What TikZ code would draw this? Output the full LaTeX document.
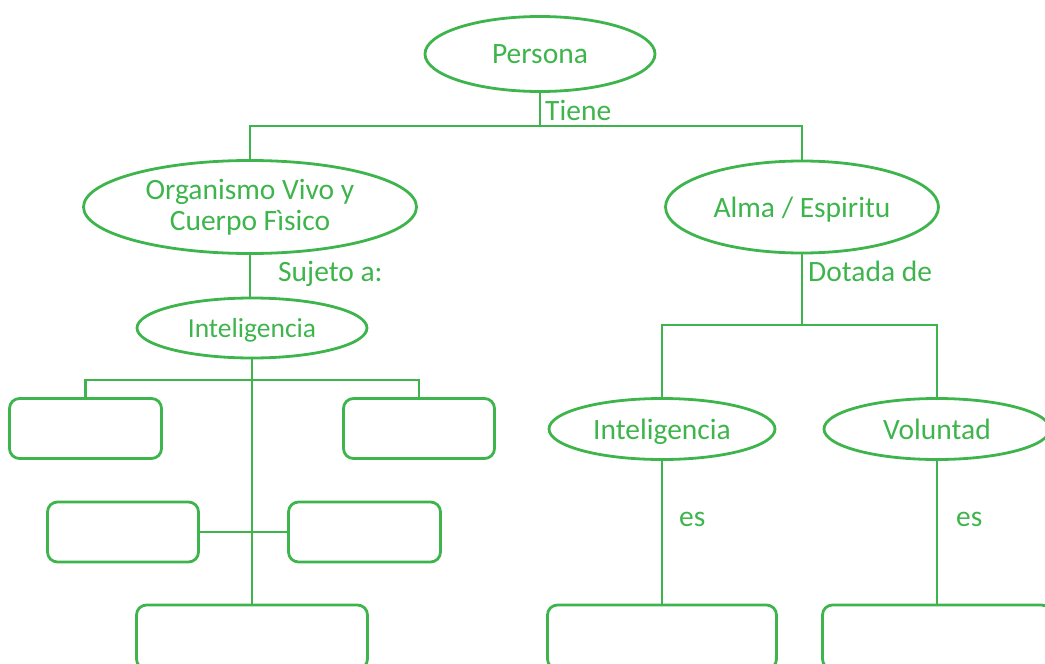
\documentclass[tikz,border=0pt]{standalone}
\usepackage{fontspec}
\setmainfont{Carlito}
\usetikzlibrary{shapes.geometric}
\definecolor{leaf}{RGB}{62,181,76}
\begin{document}
\begin{tikzpicture}[x=1pt,y=-1pt,
  every node/.style={text=leaf},
  oval/.style={draw=leaf,line width=2.8pt,ellipse,inner sep=0pt,
    font=\fontsize{29.5}{31}\selectfont},
  flat/.style={text depth=0pt},
  card/.style={draw=leaf,line width=2.8pt,rectangle,rounded corners=10pt,inner sep=0pt},
  link/.style={draw=leaf,line width=2.8pt},
  tag/.style={anchor=base west,inner sep=0pt,font=\fontsize{29.5}{31}\selectfont}]
\useasboundingbox (0,0) rectangle (1045,664);
\clip (0,0) rectangle (1045,664);

% concept ovals
\node[oval,flat,minimum width=230pt,minimum height=75pt] (persona) at (540,54) {Persona};
\node[oval,minimum width=333pt,minimum height=93pt,align=center] (org) at (250,207)
  {Organismo Vivo y\\Cuerpo Fìsico};
\node[oval,flat,minimum width=273pt,minimum height=92pt] (alma) at (802,207) {Alma / Espiritu};
\node[oval,flat,minimum width=230pt,minimum height=60pt,font=\fontsize{27.5}{30}\selectfont]
  (intA) at (252,328) {Inteligencia};
\node[oval,flat,minimum width=226pt,minimum height=61pt] (intB) at (662,429) {Inteligencia};
\node[oval,flat,minimum width=226pt,minimum height=61pt] (vol) at (937,429) {Voluntad};

% empty answer cards
\node[card,minimum width=152pt,minimum height=60pt] (b1) at (85.5,428.5) {};
\node[card,minimum width=151pt,minimum height=60pt] (b2) at (419,428.5) {};
\node[card,minimum width=151pt,minimum height=60pt] (b3) at (123,532) {};
\node[card,minimum width=152pt,minimum height=60pt] (b4) at (364.5,532) {};
\node[card,minimum width=231pt,minimum height=64pt] (b5) at (252,637) {};
\node[card,minimum width=229pt,minimum height=64pt] (rb1) at (662,637) {};
\node[card,minimum width=229pt,minimum height=64pt] (rb2) at (937,637) {};

% branch points
\coordinate (top) at (540,126);
\coordinate (midL) at (252,380);
\coordinate (midR) at (802,325);

% connectors
\draw[link] (persona.south) -- (top);
\draw[link] (org.north) |- (top) -| (alma.north);
\draw[link] (org.south) -- (org.south |- intA.north);
\draw[link] (intA.south) -- (b5.north);
\draw[link] (b1.north) |- (midL) -| (b2.north);
\draw[link] (b3.east) -- (b4.west);
\draw[link] (alma.south) -- (midR);
\draw[link] (intB.north) |- (midR) -| (vol.north);
\draw[link] (intB.south) -- (rb1.north);
\draw[link] (vol.south) -- (rb2.north);

% connector labels
\node[tag] (tiene) at (545,120) {Tiene};
\node[tag] (sujeto) at (278,281) {Sujeto a:};
\node[tag] (dotada) at (808,281) {Dotada de};
\node[tag] (es1) at (679,526) {es};
\node[tag] (es2) at (956,526) {es};
\end{tikzpicture}
\end{document}
